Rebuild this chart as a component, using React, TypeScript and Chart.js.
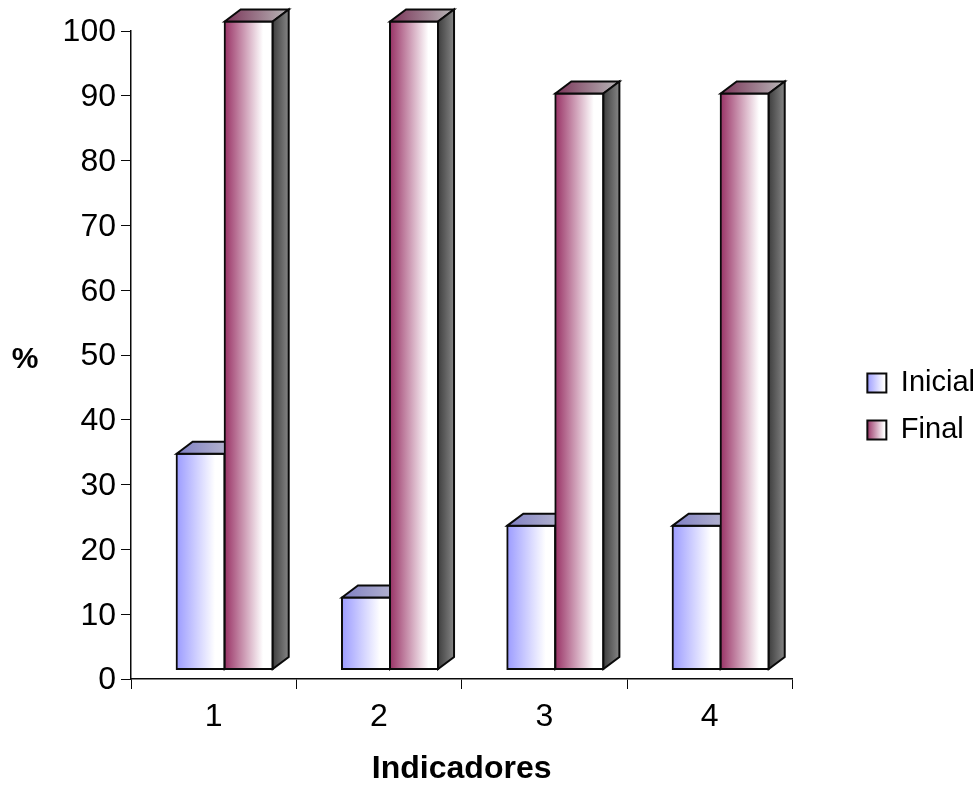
import React, { useEffect, useRef } from "react";
import { Chart, registerables } from "chart.js";

Chart.register(...registerables);

const categories = ["1", "2", "3", "4"];
const inicial = [33.3, 11.1, 22.2, 22.2];
const final = [100, 100, 88.9, 88.9];
const yTicks = [0, 10, 20, 30, 40, 50, 60, 70, 80, 90, 100];

const FONT = "'Liberation Sans', Arial, sans-serif";
const OUT = "#0a0a0a";
const SHIFT_X = 11;
const SHIFT_Y = 9.5;
const DEPTH_X = 16;
const DEPTH_Y = 12;

type Palette = { front: string; topA: string; topB: string; sideA: string; sideB: string };
const palettes: Palette[] = [
  { front: "#9c9cff", topA: "#7f7fc4", topB: "#c0c0d0", sideA: "#3c3c44", sideB: "#808080" },
  { front: "#993366", topA: "#7a3358", topB: "#b8b8b8", sideA: "#3f3f3f", sideB: "#858585" },
];

function hGrad(ctx: CanvasRenderingContext2D, x0: number, x1: number, a: string, b: string, end = 1) {
  const g = ctx.createLinearGradient(x0, 0, x1, 0);
  g.addColorStop(0, a);
  g.addColorStop(end, b);
  if (end < 1) g.addColorStop(1, b);
  return g;
}

const box3d = {
  id: "box3d",
  afterDatasetsUpdate(chart: any) {
    chart.data.datasets.forEach((_: any, di: number) => {
      chart.getDatasetMeta(di).data.forEach((el: any) => {
        const l = el.x - el.width / 2;
        el.options = {
          ...el.options,
          backgroundColor: hGrad(chart.ctx, l, l + el.width, palettes[di].front, "#ffffff", 0.8),
        };
      });
    });
  },
  beforeDatasetsDraw(chart: any) {
    const ctx: CanvasRenderingContext2D = chart.ctx;
    ctx.save();
    ctx.translate(SHIFT_X, -SHIFT_Y);
    chart.data.datasets.forEach((_: any, di: number) => {
      const meta = chart.getDatasetMeta(di);
      meta.controller.draw();
      meta.data.forEach((el: any) => {
        const l = el.x - el.width / 2;
        const r = el.x + el.width / 2;
        const t = el.y;
        const b = el.base;
        ctx.lineWidth = 2;
        ctx.lineJoin = "miter";
        ctx.strokeStyle = OUT;
        ctx.fillStyle = hGrad(ctx, l, r + DEPTH_X, palettes[di].topA, palettes[di].topB);
        ctx.beginPath();
        ctx.moveTo(l, t);
        ctx.lineTo(l + DEPTH_X, t - DEPTH_Y);
        ctx.lineTo(r + DEPTH_X, t - DEPTH_Y);
        ctx.lineTo(r, t);
        ctx.closePath();
        ctx.fill();
        ctx.stroke();
        ctx.fillStyle = hGrad(ctx, r, r + DEPTH_X, palettes[di].sideA, palettes[di].sideB);
        ctx.beginPath();
        ctx.moveTo(r, t);
        ctx.lineTo(r + DEPTH_X, t - DEPTH_Y);
        ctx.lineTo(r + DEPTH_X, b - DEPTH_Y);
        ctx.lineTo(r, b);
        ctx.closePath();
        ctx.fill();
        ctx.stroke();
      });
    });
    ctx.restore();
    return false;
  },
};

const pinLegend = {
  id: "pinLegend",
  afterLayout(chart: any) {
    const lg = chart.legend;
    const move = 57;
    lg.left += move;
    lg.right += move;
  },
};

const percentLabel = {
  id: "percentLabel",
  afterDraw(chart: any) {
    const ctx: CanvasRenderingContext2D = chart.ctx;
    ctx.save();
    ctx.font = `bold 30px ${FONT}`;
    ctx.fillStyle = "#000";
    ctx.textAlign = "center";
    ctx.textBaseline = "middle";
    ctx.fillText("%", 25, 360);
    ctx.restore();
  },
};

export default function App() {
  const ref = useRef<HTMLCanvasElement>(null);
  useEffect(() => {
    const chart = new Chart(ref.current as HTMLCanvasElement, {
      type: "bar",
      data: {
        labels: categories,
        datasets: [
          { label: "Inicial", data: inicial, borderColor: OUT, borderWidth: 2, borderSkipped: false, inflateAmount: 1, backgroundColor: "#9c9cff", categoryPercentage: 0.581, barPercentage: 1 },
          { label: "Final", data: final, borderColor: OUT, borderWidth: 2, borderSkipped: false, inflateAmount: 1, backgroundColor: "#993366", categoryPercentage: 0.581, barPercentage: 1 },
        ],
      },
      plugins: [box3d, pinLegend, percentLabel],
      options: {
        animation: false,
        responsive: false,
        layout: { padding: { top: 31, bottom: 5, left: 0, right: 52 } },
        scales: {
          x: {
            grid: { drawOnChartArea: false, color: OUT, tickLength: 10, tickColor: OUT },
            border: { color: OUT, width: 1.5 },
            ticks: { color: "#000", font: { family: FONT, size: 32 }, padding: 9, maxRotation: 0 },
            title: { display: true, text: "Indicadores", color: "#000", font: { family: FONT, size: 32, weight: "bold" }, padding: { top: 6, bottom: -6 } },
            afterFit(s: any) { s.height = 103; },
          },
          y: {
            min: 0,
            max: 100,
            afterBuildTicks(s: any) { s.ticks = yTicks.map((value) => ({ value })); },
            grid: { drawOnChartArea: false, color: OUT, tickLength: 10, tickColor: OUT },
            border: { color: OUT, width: 1.5 },
            ticks: { color: "#000", font: { family: FONT, size: 32 }, padding: 5, labelOffset: 1.5 },
            afterFit(s: any) { s.width = 131; },
          },
        },
        plugins: {
          tooltip: { enabled: false },
          legend: {
            position: "right",
            labels: {
              color: "#000",
              font: { family: FONT, size: 29 },
              boxWidth: 19,
              boxHeight: 19,
              padding: 18,
              generateLabels(c: any) {
                return c.data.datasets.map((d: any, i: number) => ({
                  text: d.label,
                  fillStyle: hGrad(c.ctx, 867, 886, palettes[i].front, "#ffffff", 0.9),
                  strokeStyle: OUT,
                  lineWidth: 2,
                  fontColor: "#000",
                  datasetIndex: i,
                  hidden: false,
                }));
              },
            },
          },
        },
      },
    } as any);
    return () => chart.destroy();
  }, []);
  return (
    <div style={{ position: "fixed", left: 0, top: 0, width: 980, height: 787, background: "#fff" }}>
      <canvas ref={ref} width={980} height={787} style={{ display: "block" }} />
    </div>
  );
}
